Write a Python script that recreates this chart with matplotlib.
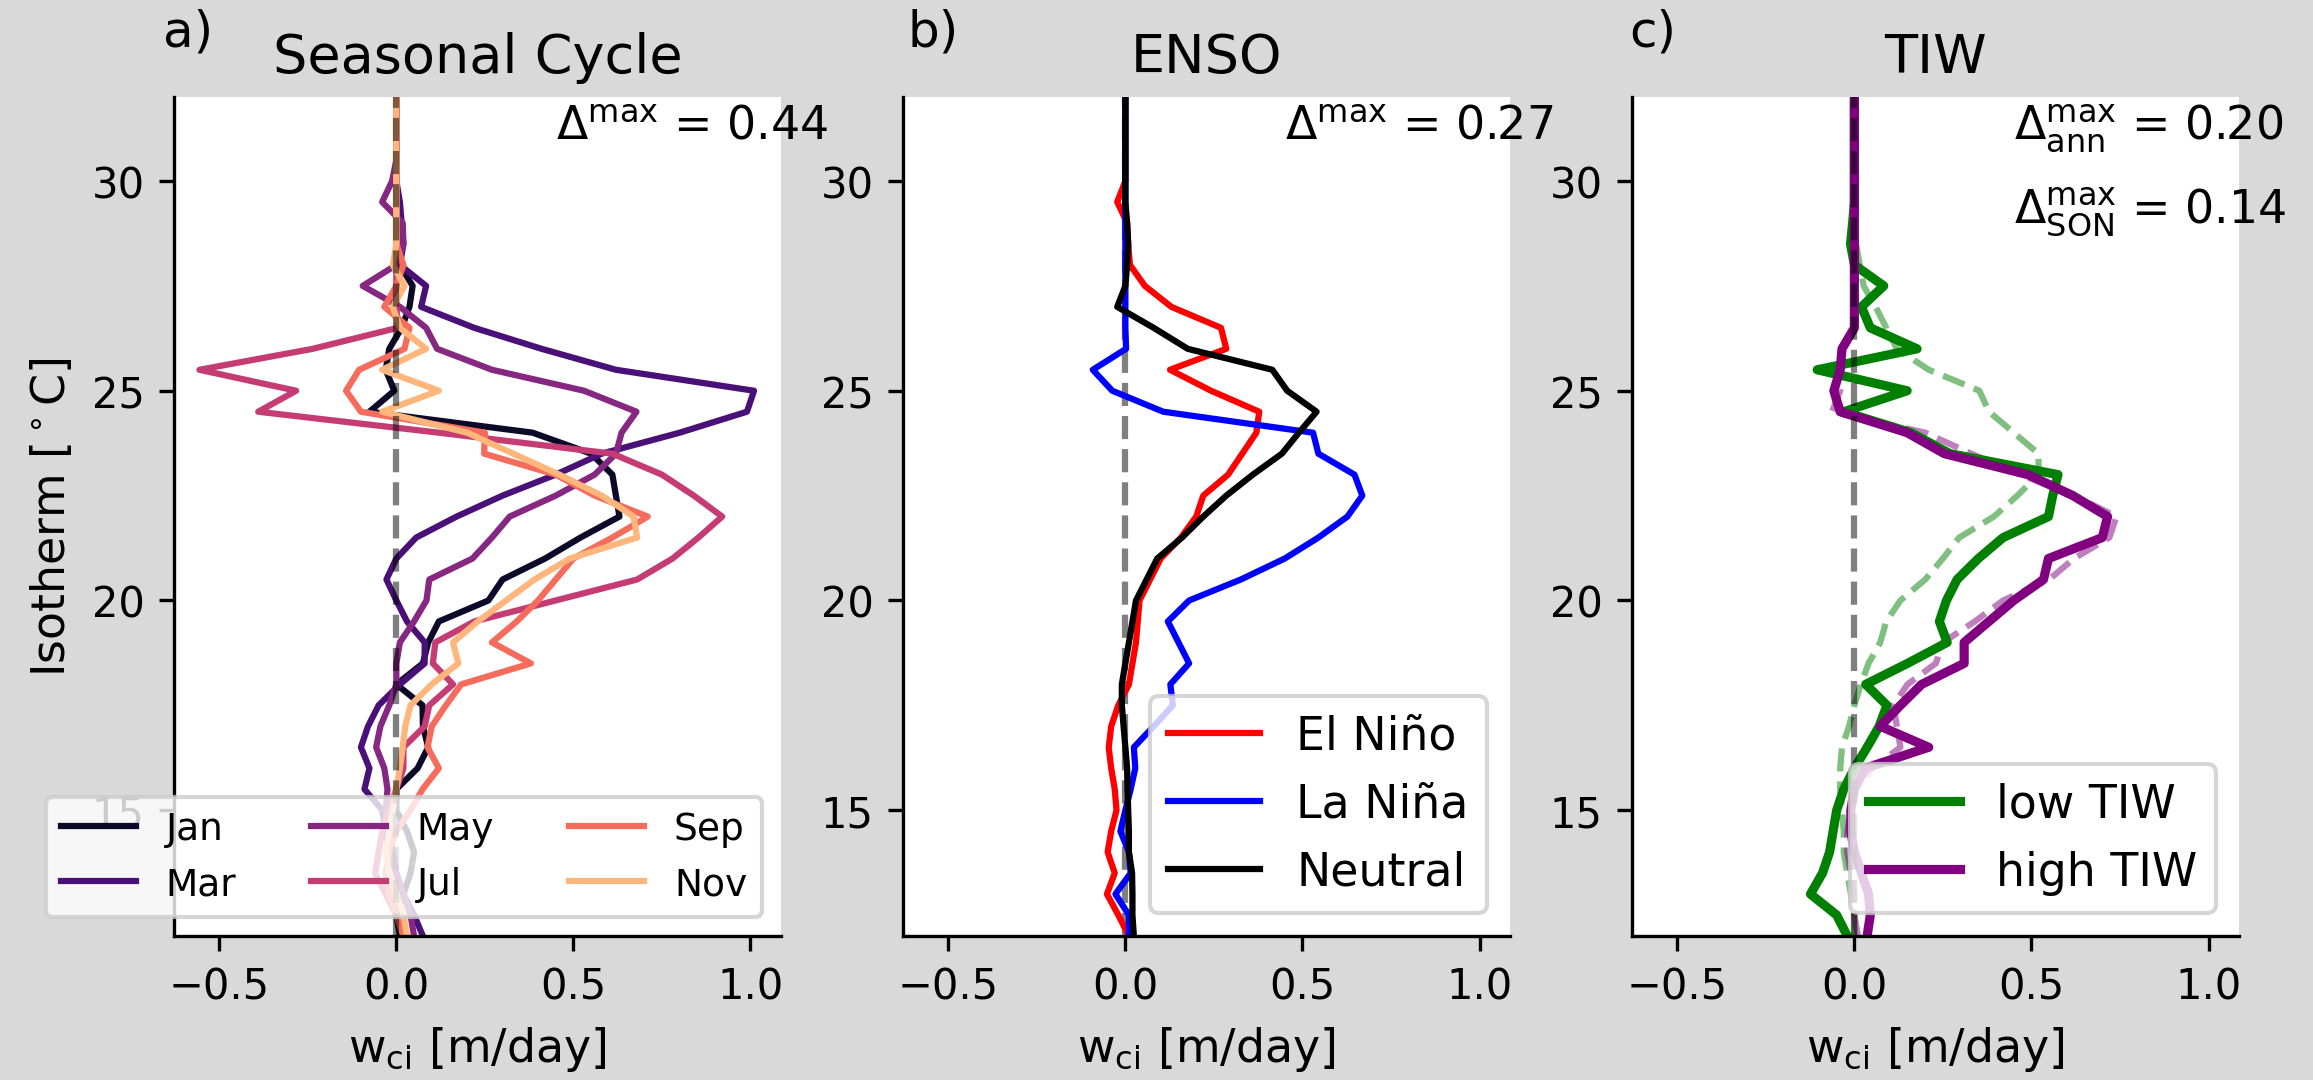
import numpy as np
import matplotlib
matplotlib.use('Agg')
import matplotlib.pyplot as plt

# isotherm grid (deg C)
iso = np.arange(12, 32.01, 0.5)

# a) seasonal cycle, w_ci [m/day] per isotherm (12 -> 32)
months = ['Jan', 'Mar', 'May', 'Jul', 'Sep', 'Nov']
jan = [0.01, 0.0, 0.02, 0.04, 0.05, 0.03, 0.0, 0.0, 0.06, 0.09, 0.075, 0.074, 0.0, 0.075,
       0.09, 0.12, 0.26, 0.30, 0.42, 0.52, 0.63, 0.62, 0.61, 0.55, 0.385, -0.076, -0.006,
       -0.03, -0.02, 0.015, 0.037, 0.046, 0.01, 0, 0, 0, 0, 0, 0, 0, 0]
mar = [0.075, 0.05, 0.02, 0.0, -0.02, -0.03, -0.04, -0.09, -0.076, -0.1, -0.08, -0.05, 0.01,
       0.08, 0.08, 0.03, 0.0, -0.028, 0.0, 0.056, 0.17, 0.30, 0.45, 0.58, 0.80, 0.99, 1.01,
       0.62, 0.41, 0.22, 0.07, 0.084, 0.01, 0.02, 0.015, 0.01, 0, 0, 0, 0, 0]
may = [0.05, 0.04, 0.02, 0.0, -0.01, -0.02, -0.03, -0.025, -0.034, -0.057, -0.045, -0.02, 0.0,
       0.0, 0.01, 0.05, 0.085, 0.093, 0.215, 0.27, 0.32, 0.45, 0.56, 0.62, 0.636, 0.678, 0.53,
       0.27, 0.115, 0.084, 0.01, -0.095, 0.0, 0.02, 0.018, -0.04, -0.012, 0, 0, 0, 0]
jul = [0.02, 0.0, -0.03, -0.06, -0.05, -0.04, -0.02, 0.0, 0.02, 0.02, 0.08, 0.093, 0.16, 0.103,
       0.11, 0.22, 0.45, 0.68, 0.78, 0.853, 0.92, 0.84, 0.75, 0.61, 0.12, -0.39, -0.283,
       -0.556, -0.236, 0.004, 0, 0, 0, 0, 0, 0, 0, 0, 0, 0, 0]
sep = [0.02, 0.0, -0.02, -0.03, -0.02, 0.0, 0.04, 0.074, 0.12, 0.088, 0.1, 0.14, 0.183, 0.38,
       0.27, 0.34, 0.40, 0.45, 0.50, 0.61, 0.71, 0.56, 0.45, 0.248, 0.25, -0.1, -0.142, -0.105,
       0.023, 0.037, -0.034, 0.0, 0.02, 0, 0, 0, 0, 0, 0, 0, 0]
nov = [0.03, 0.02, 0.0, -0.02, -0.03, -0.02, -0.01, 0.0, 0.01, 0.018, 0.025, 0.04, 0.1, 0.175,
       0.16, 0.23, 0.31, 0.39, 0.49, 0.68, 0.67, 0.58, 0.46, 0.33, 0.2, -0.04, 0.12, -0.04,
       0.084, 0.01, -0.01, 0.023, -0.01, 0, 0, 0, 0, 0, 0, 0, 0]
seasonal = [jan, mar, may, jul, sep, nov]

# b) ENSO
nino = [0.01, -0.02, -0.052, -0.03, -0.05, -0.04, -0.025, -0.03, -0.04, -0.047, -0.04, -0.02,
        0.01, 0.02, 0.03, 0.035, 0.04, 0.07, 0.1, 0.157, 0.2, 0.22, 0.29, 0.33, 0.37, 0.378,
        0.242, 0.126, 0.285, 0.27, 0.13, 0.055, 0.013, 0.008, 0.005, -0.023, 0.0, 0, 0, 0, 0]
nina = [0.01, 0.01, -0.028, 0.015, 0.01, -0.014, 0.0, 0.015, 0.028, 0.024, 0.08, 0.134, 0.127,
        0.18, 0.15, 0.12, 0.18, 0.326, 0.45, 0.545, 0.627, 0.669, 0.647, 0.545, 0.53, 0.107,
        -0.037, -0.092, 0.002, 0, 0, 0, 0, 0, 0, 0, 0, 0, 0, 0, 0]
neutral = [0.024, 0.02, 0.02, 0.019, 0.01, 0.01, 0.008, 0.006, 0.005, 0.0, -0.005, -0.01, -0.01,
           0.0, 0.01, 0.02, 0.03, 0.06, 0.09, 0.16, 0.22, 0.285, 0.36, 0.442, 0.49, 0.54, 0.457,
           0.415, 0.176, 0.08, -0.023, 0.0, 0.005, 0.008, 0.005, 0, 0, 0, 0, 0, 0]

# c) TIW (annual solid, SON dashed)
low_tiw = [-0.02, -0.05, -0.124, -0.09, -0.07, -0.06, -0.05, -0.03, 0.0, 0.036, 0.07, 0.092,
           0.032, 0.15, 0.262, 0.24, 0.26, 0.29, 0.35, 0.42, 0.548, 0.56, 0.575, 0.27, 0.16,
           -0.03, 0.149, -0.105, 0.177, 0.045, 0.02, 0.083, 0.0, -0.011, -0.005, 0, 0, 0, 0, 0, 0]
high_tiw = [0.036, 0.045, 0.04, 0.02, 0.0, -0.01, -0.01, 0.0, 0.03, 0.21, 0.073, 0.13, 0.19,
            0.31, 0.31, 0.38, 0.45, 0.534, 0.548, 0.70, 0.715, 0.617, 0.49, 0.254, 0.149, -0.04,
            -0.058, -0.04, -0.035, 0.0, 0, 0, 0, 0, 0, 0, 0, 0, 0, 0, 0]
low_tiw_son = [0.0, 0.0, -0.01, -0.02, -0.03, -0.03, -0.035, -0.04, -0.04, -0.035, -0.015, 0.0,
               0.018, 0.04, 0.073, 0.09, 0.13, 0.2, 0.25, 0.296, 0.394, 0.46, 0.52, 0.52, 0.45,
               0.38, 0.353, 0.21, 0.12, 0.09, 0.06, 0.026, 0.015, 0.005, 0, 0, 0, 0, 0, 0, 0]
high_tiw_son = [0.01, 0.0, 0.0, -0.01, -0.02, -0.02, -0.01, 0.0, 0.05, 0.13, 0.12, 0.11, 0.15,
                0.23, 0.25, 0.34, 0.42, 0.55, 0.62, 0.72, 0.74, 0.62, 0.47, 0.33, 0.2, -0.063,
                -0.04, -0.04, -0.03, 0.0, 0, 0, 0, 0, 0, 0, 0, 0, 0, 0, 0]

colors = plt.cm.magma(np.linspace(1 / 13, 11 / 13, 6))

fig, axs = plt.subplots(1, 3, figsize=(7.71, 3.603), dpi=300)
fig.patch.set_facecolor('#d9d9d9')
plt.subplots_adjust(left=0.0752, right=0.968, bottom=0.1332, top=0.9093, wspace=0.201)

# a) seasonal cycle
ax = axs[0]
for m, vals, c in zip(months, seasonal, colors):
    ax.plot(vals, iso, color=c, lw=1.5, label=m)
ax.axvline(0, color='k', ls='--', lw=1.5, alpha=0.5, zorder=5)
ax.legend(loc='lower right', ncol=3, fontsize=9)
ax.set_title('Seasonal Cycle', fontsize=13)
ax.text(0.45, 31, r'$\Delta^{\rm max}$ = 0.44', fontsize=11)
ax.set_ylabel(r'Isotherm [$^\circ$C]', fontsize=11)
ax.text(-0.018, 1.061, 'a)', transform=ax.transAxes, fontsize=12)

# b) ENSO
ax = axs[1]
ax.axvline(0, color='k', ls='--', lw=1.5, alpha=0.5)
ax.plot(nino, iso, color='red', lw=1.5, label='El Niño')
ax.plot(nina, iso, color='blue', lw=1.5, label='La Niña')
ax.plot(neutral, iso, color='k', lw=1.5, label='Neutral')
ax.legend(loc='lower right', fontsize=11)
ax.set_title('ENSO', fontsize=13)
ax.text(0.45, 31, r'$\Delta^{\rm max}$ = 0.27', fontsize=11)
ax.text(0.008, 1.061, 'b)', transform=ax.transAxes, fontsize=12)

# c) TIW
ax = axs[2]
ax.plot(low_tiw_son, iso, color='green', ls='--', lw=1.5, alpha=0.5)
ax.plot(high_tiw_son, iso, color='purple', ls='--', lw=1.5, alpha=0.5)
ax.plot(low_tiw, iso, color='green', lw=2.2, label='low TIW')
ax.plot(high_tiw, iso, color='purple', lw=2.2, label='high TIW')
ax.axvline(0, color='k', ls='--', lw=1.5, alpha=0.5, zorder=5)
ax.legend(loc='lower right', fontsize=11)
ax.set_title('TIW', fontsize=13)
ax.text(0.45, 31, r'$\Delta^{\rm max}_{\rm ann}$ = 0.20', fontsize=11)
ax.text(0.45, 29, r'$\Delta^{\rm max}_{\rm SON}$ = 0.14', fontsize=11)
ax.text(-0.005, 1.061, 'c)', transform=ax.transAxes, fontsize=12)

for ax in axs:
    ax.set_xlim(-0.628, 1.086)
    ax.set_ylim(12, 32)
    ax.set_xticks([-0.5, 0.0, 0.5, 1.0])
    ax.set_yticks([15, 20, 25, 30])
    ax.tick_params(labelsize=10)
    ax.set_xlabel(r'w$_{\rm ci}$ [m/day]', fontsize=11)
    ax.spines[['top', 'right']].set_visible(False)

fig.savefig('out.png', dpi=300, facecolor=fig.get_facecolor())
